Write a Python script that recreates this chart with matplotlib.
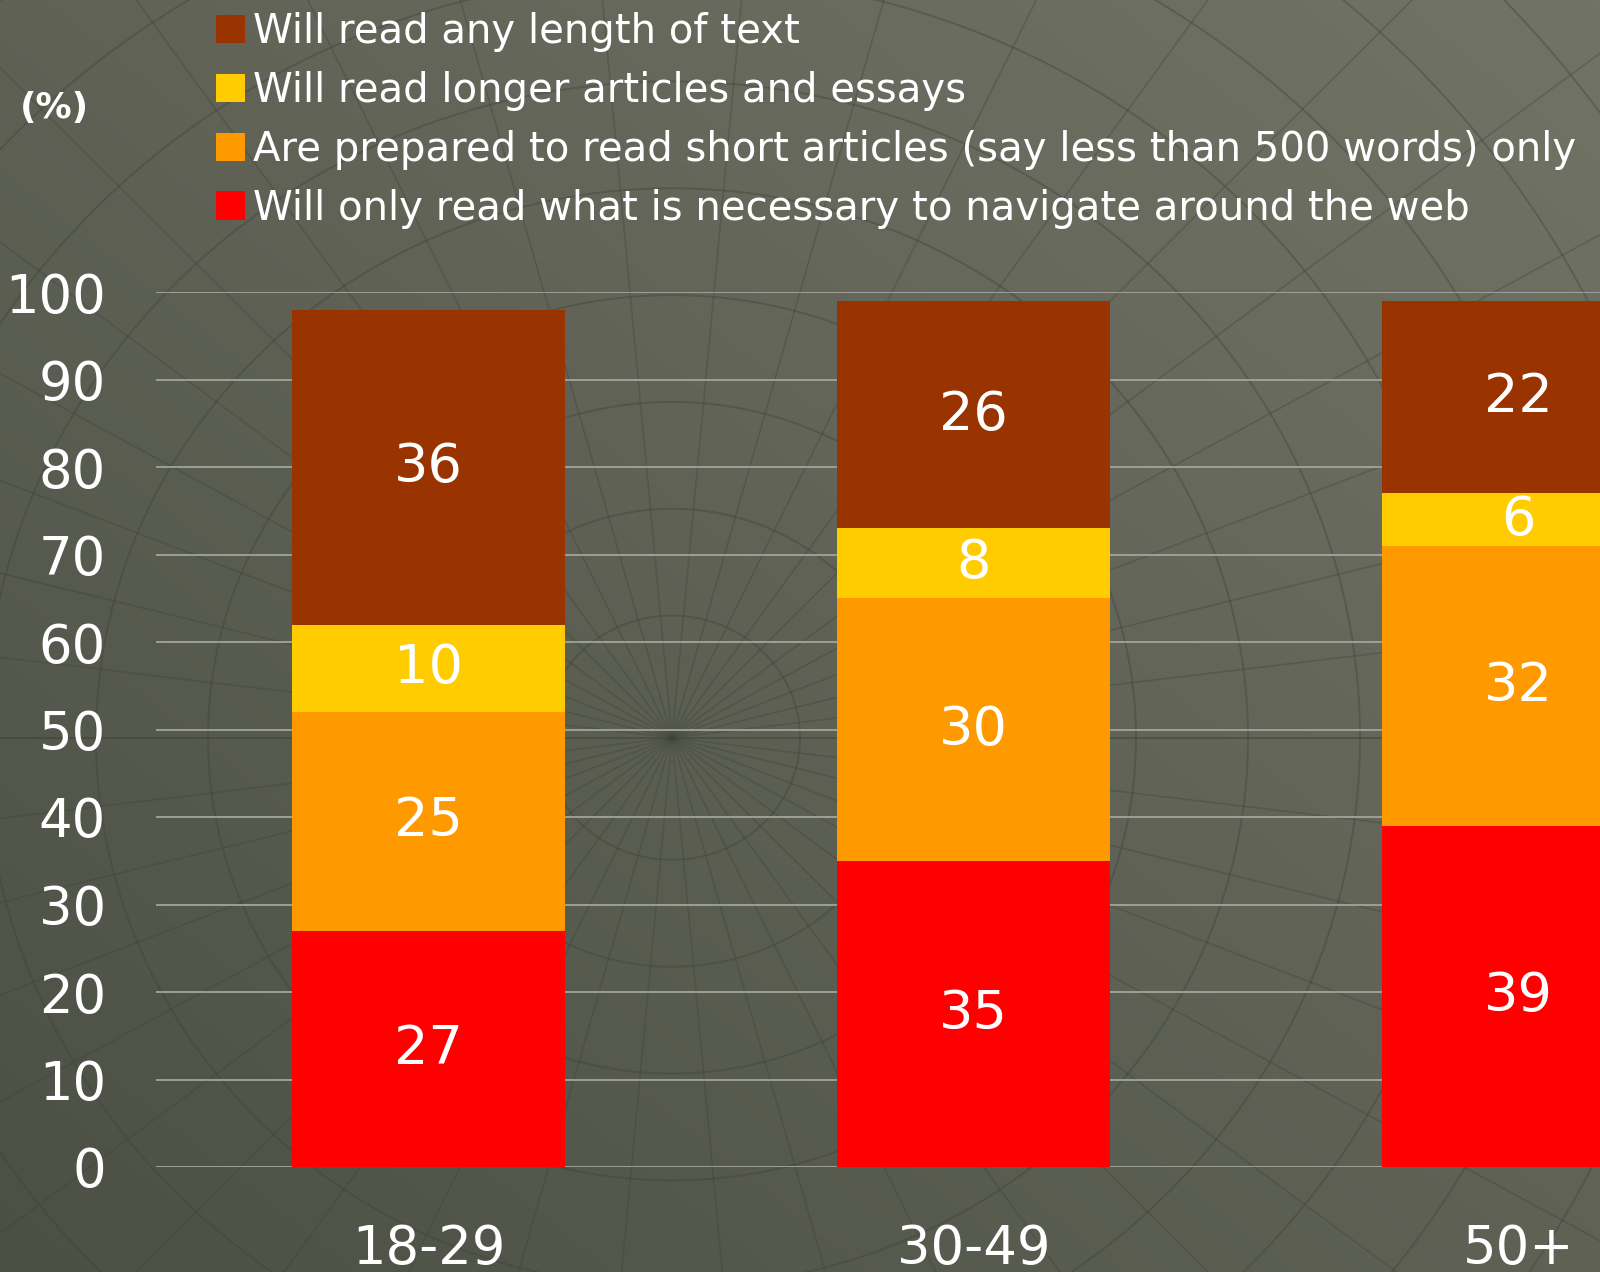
import numpy as np
import matplotlib
matplotlib.use("Agg")
import matplotlib.pyplot as plt
from matplotlib.patches import Patch

# --- data ---
age_groups = ["18-29", "30-49", "50+"]
navigate_only = [27, 35, 39]
short_articles = [25, 30, 32]
longer_articles = [10, 8, 6]
any_length = [36, 26, 22]

series_labels = [
    "Will only read what is necessary to navigate around the web",
    "Are prepared to read short articles (say less than 500 words) only",
    "Will read longer articles and essays",
    "Will read any length of text",
]
series_colors = ["#FF0000", "#FF9900", "#FFCC00", "#993300"]
y_ticks = list(range(0, 101, 10))

W, H = 1600, 1272
fig = plt.figure(figsize=(W / 100, H / 100), dpi=100)

# background gradient (lighter top-right, darker bottom-left)
bg = fig.add_axes([0, 0, 1, 1], zorder=0)
gy, gx = np.mgrid[0:1:200j, 0:1:200j]
grad = 0.5 * gx + 0.5 * gy
c_dark = np.array([0x4c, 0x4f, 0x44]) / 255
c_light = np.array([0x71, 0x74, 0x65]) / 255
img = c_dark[None, None, :] + grad[..., None] * (c_light - c_dark)[None, None, :]
bg.imshow(img, origin="lower", extent=[0, 1, 0, 1], aspect="auto")
# faint globe-like decoration
t = np.linspace(0, 2 * np.pi, 400)
for r in np.arange(0.08, 0.9, 0.07):
    bg.plot(0.42 + r * np.cos(t), 0.42 + r * 1.2 * np.sin(t), color="#3f4238",
            lw=1.4, alpha=0.4)
for a in np.linspace(0, np.pi, 22):
    bg.plot([0.42 - np.cos(a) * 1.2, 0.42 + np.cos(a) * 1.2],
            [0.42 - np.sin(a) * 1.2, 0.42 + np.sin(a) * 1.2],
            color="#3f4238", lw=1.2, alpha=0.35)
bg.set_xlim(0, 1)
bg.set_ylim(0, 1)
bg.axis("off")

ax = fig.add_axes([156 / W, 105 / H, 1635 / W, 875 / H], zorder=1)
ax.patch.set_visible(False)

x = np.arange(len(age_groups))
stacks = [navigate_only, short_articles, longer_articles, any_length]
bottom = np.zeros(len(age_groups))
for vals, color in zip(stacks, series_colors):
    vals = np.array(vals, dtype=float)
    ax.bar(x, vals, 0.5, bottom=bottom, color=color, zorder=3)
    for xi, b, v in zip(x, bottom, vals):
        ax.text(xi, b + v / 2, f"{int(v)}", ha="center", va="center",
                color="white", fontsize=39, zorder=4)
    bottom += vals

ax.set_xlim(-0.5, 2.5)
ax.set_ylim(0, 100)
ax.set_yticks(y_ticks)
ax.set_xticks(x)
ax.set_xticklabels(age_groups)
ax.yaxis.grid(True, color="#a3a59c", lw=1.3, zorder=0)
ax.set_axisbelow(True)
ax.tick_params(axis="y", length=0, pad=36, labelsize=38, labelcolor="white")
ax.tick_params(axis="x", length=0, pad=40, labelsize=38, labelcolor="white")
for s in ax.spines.values():
    s.set_visible(False)

fig.text(20 / W, 1 - 108 / H, "(%)", color="white", fontsize=26,
         fontweight="bold", va="center", ha="left")

handles = [Patch(facecolor=c, edgecolor="none") for c in series_colors[::-1]]
leg = fig.legend(handles, series_labels[::-1], loc="upper left",
                 bbox_to_anchor=(204 / W, 1.0), frameon=False, fontsize=29,
                 handlelength=0.72, handleheight=0.72, handletextpad=0.2,
                 labelspacing=0.47, borderaxespad=0.0, borderpad=0.3)
for txt in leg.get_texts():
    txt.set_color("white")

fig.savefig("out.png", dpi=100)
